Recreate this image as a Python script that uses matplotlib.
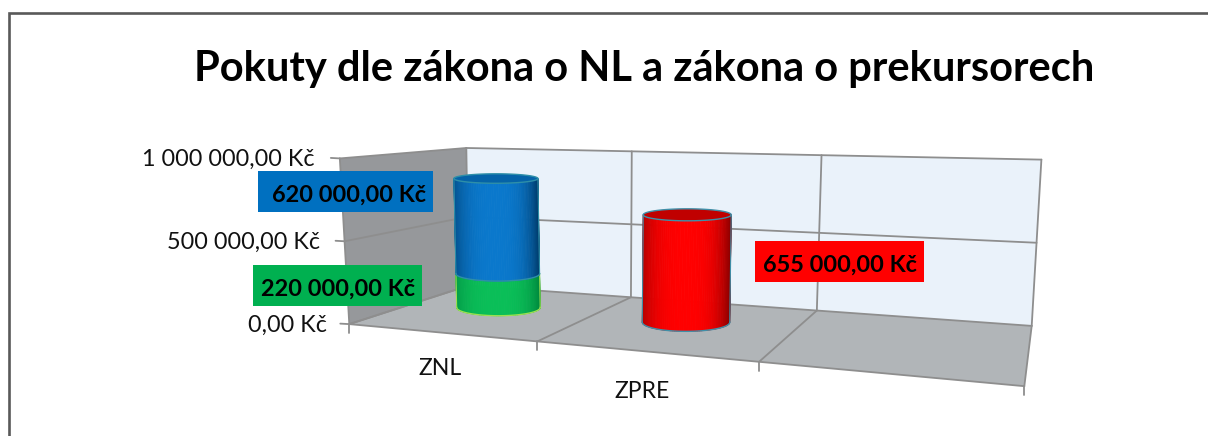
import numpy as np
import matplotlib
matplotlib.use("Agg")
import matplotlib.pyplot as plt
from matplotlib.collections import PolyCollection
from matplotlib.patches import Polygon, Rectangle

TITLE = "Pokuty dle zákona o NL a zákona o prekursorech"
categories = ["ZNL", "ZPRE", ""]
value_ticks = [0, 500000, 1000000]
znl_green = [220000, 0, 0]
znl_blue = [620000, 0, 0]
zpre_red = [0, 655000, 0]
VMAX = 1000000

W, H = 1208, 436
plt.rcParams["font.family"] = ["Lato", "DejaVu Sans"]
fig = plt.figure(figsize=(W / 100, H / 100), dpi=100)
ax = fig.add_axes([0, 0, 1, 1])
ax.set_xlim(0, W)
ax.set_ylim(H, 0)
ax.axis("off")

# Projected box frame: control points for category edges (front row, back row)
FLOOR_FRONT = [(350, 322), (537, 342), (758, 362), (1025, 388)]
FLOOR_BACK = [(467, 288), (633, 296), (817, 310), (1031, 325)]
TOP_FRONT = [(339, 158), (535, 164), (764, 168), (1040, 178)]
TOP_BACK = [(467, 148), (631, 152), (821, 155), (1042, 159)]


def homography(front, back):
    A, b = [], []
    for row, d in ((front, 0.0), (back, 1.0)):
        for i, (X, Y) in enumerate(row):
            x, y = i / (len(row) - 1), d
            A.append([x, y, 1, 0, 0, 0, -x * X, -y * X]); b.append(X)
            A.append([0, 0, 0, x, y, 1, -x * Y, -y * Y]); b.append(Y)
    sol = np.linalg.lstsq(np.array(A, float), np.array(b, float), rcond=None)[0]
    return np.append(sol, 1).reshape(3, 3)


HF, HT = homography(FLOOR_FRONT, FLOOR_BACK), homography(TOP_FRONT, TOP_BACK)


def apply(M, u, d):
    p = M @ np.array([u, d, np.ones_like(u)], float)
    return p[0] / p[2], p[1] / p[2]


def proj(cat, d, val):
    """Category position (0..n), depth (0..1), value -> picture position."""
    u = np.asarray(cat, float) / len(categories)
    d = np.asarray(d, float)
    t = np.asarray(val, float) / VMAX
    fx, fy = apply(HF, u, d)
    tx, ty = apply(HT, u, d)
    return fx + (tx - fx) * t, fy + (ty - fy) * t


def pt(c, d, v):
    x, y = proj(c, d, v)
    return float(x), float(y)


def money(v):
    return f"{v:,.2f}".replace(",", " ").replace(".", ",") + " Kč"


n = len(categories)
GRID = "#8e8e8e"
# chart-area border: only left and top edges are inside the picture
ax.plot([9, 9, W], [H, 13, 13], color="#595959", lw=1.9, solid_joinstyle="miter", zorder=0)

# walls and floor
ax.add_patch(Polygon([pt(0, 1, 0), pt(n, 1, 0), pt(n, 1, VMAX), pt(0, 1, VMAX)], fc="#EAF2FA", ec="none", zorder=1))
ax.add_patch(Polygon([pt(0, 0, 0), pt(0, 1, 0), pt(0, 1, VMAX), pt(0, 0, VMAX)], fc="#96989B", ec="none", zorder=1))
ax.add_patch(Polygon([pt(0, 0, 0), pt(n, 0, 0), pt(n, 1, 0), pt(0, 1, 0)], fc="#B1B5B8", ec="none", zorder=1))


def line(a, b, lw=1.3, c=GRID):
    ax.plot([a[0], b[0]], [a[1], b[1]], color=c, lw=lw, zorder=2, solid_capstyle="round")


for v in value_ticks:
    line(pt(0, 0, v), pt(0, 1, v))
    line(pt(0, 1, v), pt(n, 1, v))
    fx, fy = pt(0, 0, v)
    line((fx - 9, fy - 0.5), (fx, fy))
    ax.text(fx - 25.5 + 3 * (1 - v / VMAX), fy + 1, money(v), ha="right", va="center", fontsize=16.8,
            color="#111111", zorder=6)
for c in range(n + 1):
    line(pt(c, 1, 0), pt(c, 1, VMAX))
    line(pt(c, 0, 0), pt(c, 1, 0))
    fx, fy = pt(c, 0, 0)
    line((fx, fy), (fx, fy + 9))
line(pt(0, 0, 0), pt(n, 0, 0))
line(pt(0, 0, 0), pt(0, 0, VMAX))

RU, A0, RD, B0 = 0.071, 29.4, 0.14, 2.5
XDEPTH, YDEPTH = 0.5, 0.56
th = np.linspace(np.pi, 2 * np.pi, 61)  # front half of the ellipse, left to right


def ellipse(c, v):
    """Centre and semi-axes of the cylinder's cross-section at value v."""
    cx, _ = proj(c, XDEPTH, v)
    _, cy = proj(c, YDEPTH, v)
    lx, _ = proj(c - RU, XDEPTH, v)
    rx, _ = proj(c + RU, XDEPTH, v)
    _, fy = proj(c, 0.0, v)
    _, by = proj(c, 1.0, v)
    return float(cx), float(cy), A0 + float(rx - lx) / 2, B0 + RD * abs(float(fy - by))


def shade(edge, mid, x):
    e = np.array(matplotlib.colors.to_rgb(edge))
    m = np.array(matplotlib.colors.to_rgb(mid))
    dark = abs(x) ** 3 * (0.65 if x < 0 else 1.0)
    return m + (e - m) * dark


def cylinder(c, v0, v1, edge, mid, top, line_col, z):
    bc = ellipse(c, v0)
    tc = ellipse(c, v1)
    bx, by = bc[0] + bc[2] * np.cos(th), bc[1] - bc[3] * np.sin(th)
    tx, ty = tc[0] + tc[2] * np.cos(th), tc[1] - tc[3] * np.sin(th)
    polys, cols = [], []
    for i in range(len(th) - 1):
        polys.append([(bx[i], by[i]), (bx[i + 1], by[i + 1]), (tx[i + 1], ty[i + 1]), (tx[i], ty[i])])
        cols.append(shade(edge, mid, np.cos((th[i] + th[i + 1]) / 2)))
    ax.add_collection(PolyCollection(polys, facecolors=cols, edgecolors=cols, linewidths=0.6, zorder=z))
    full = np.linspace(0, 2 * np.pi, 121)
    if top is not None:
        ax.add_patch(Polygon(np.c_[tc[0] + tc[2] * np.cos(full), tc[1] + tc[3] * np.sin(full)],
                             fc=top, ec=line_col, lw=1.0, zorder=z + 0.1))
    ax.plot(bx, by, color=line_col, lw=1.0, zorder=z + 0.1)
    ax.plot([bx[0], tx[0]], [by[0], ty[0]], color=line_col, lw=0.8, zorder=z + 0.1)
    ax.plot([bx[-1], tx[-1]], [by[-1], ty[-1]], color=line_col, lw=0.8, zorder=z + 0.1)


cylinder(0.5, 0, znl_green[0], "#008A3E", "#0ABF58", None, "#9CE050", 3)
cylinder(0.5, znl_green[0], znl_green[0] + znl_blue[0], "#003D6E", "#0A78CC", "#0563A8", "#2E8FA8", 3.2)
cylinder(1.5, 0, zpre_red[1], "#8C0000", "#FF0000", "#C00000", "#3F8FA8", 3.4)


def data_label(v, x0, y0, x1, y1, tx, color):
    ax.add_patch(Rectangle((x0, y0), x1 - x0, y1 - y0, fc=color, ec="none", zorder=5))
    ax.text(tx, (y0 + y1) / 2 + 3.5, money(v), ha="center", va="center", fontsize=16.9, fontweight="bold",
            color="black", zorder=6)


data_label(znl_blue[0], 258, 171, 433, 212, 349, "#0070C0")
data_label(znl_green[0], 253, 265, 422, 306, 338, "#00B050")
data_label(zpre_red[1], 755, 241, 924, 282, 840, "#FF0000")

ax.text(440, 368, categories[0], ha="center", va="center", fontsize=16.6, color="#111111")
ax.text(642, 391, categories[1], ha="center", va="center", fontsize=16.6, color="#111111")
ax.text(644.5, 68.5, TITLE, ha="center", va="center", fontsize=30, fontweight="bold", color="black")

fig.savefig("out.png", dpi=100)
